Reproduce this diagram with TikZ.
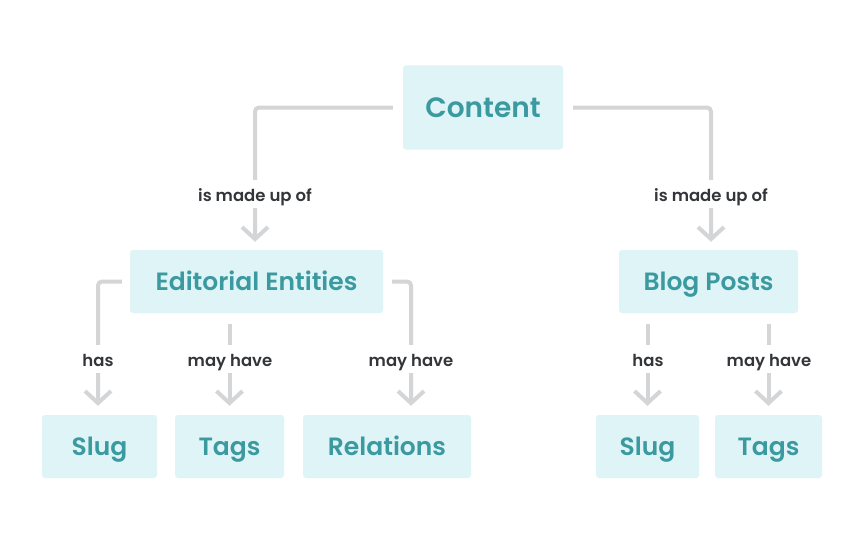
\documentclass[tikz,border=0pt]{standalone}
\usepackage{fontspec}
\setmainfont{Poppins}
\newfontfamily\boxfont{Poppins SemiBold}
\newfontfamily\labfont{Poppins SemiBold}
\usetikzlibrary{arrows.meta}
\definecolor{boxfill}{HTML}{DFF4F6}
\definecolor{boxtext}{HTML}{3A9AA0}
\definecolor{linecol}{HTML}{D3D5D7}
\definecolor{labtext}{HTML}{333538}
\tikzset{
  entity/.style={fill=boxfill, rounded corners=3pt, inner sep=0pt, text=boxtext,
    font=\boxfont\fontsize{25}{30}\selectfont, text height=17.5pt, text depth=0pt,
    minimum height=63pt},
  conn/.style={draw=linecol, line width=4pt, rounded corners=4pt,
    -{Straight Barb[length=12pt, width=26pt]}},
  rel/.style={fill=white, inner xsep=3pt, inner ysep=0pt, minimum height=28pt,
    text height=14pt, text depth=0pt,
    text=labtext, font=\labfont\fontsize{16.5}{20}\selectfont}
}
\begin{document}
\begin{tikzpicture}[x=1pt, y=-1pt]
\useasboundingbox[fill=white] (0,0) rectangle (864,543);
% nodes
\node[entity, minimum width=160pt, minimum height=84pt, font=\boxfont\fontsize{28}{33}\selectfont, text height=19.6pt] (content) at (483,107.5) {Content};
\node[entity, minimum width=253pt] (ee) at (256.5,281.5) {Editorial Entities};
\node[entity, minimum width=179pt] (bp) at (708.5,281.5) {Blog Posts};
\node[entity, minimum width=115pt] (slug1) at (99.5,446.5) {Slug};
\node[entity, minimum width=109pt] (tags1) at (229.5,446.5) {Tags};
\node[entity, minimum width=168pt] (rel1) at (387,446.5) {Relations};
\node[entity, minimum width=103pt] (slug2) at (647.5,446.5) {Slug};
\node[entity, minimum width=107pt] (tags2) at (768.5,446.5) {Tags};
% connectors
\draw[conn, shorten <=10pt, shorten >=8pt] (content.west) -| ([xshift=-1.5pt]ee.north);
\draw[conn, shorten <=10pt, shorten >=8pt] (content.east) -| ([xshift=2.5pt]bp.north);
\draw[conn, shorten <=8pt, shorten >=9pt] (ee.west) -| ([xshift=-1.5pt]slug1.north);
\draw[conn, shorten <=11pt, shorten >=9pt] (tags1.north |- ee.south) -- (tags1.north);
\draw[conn, shorten <=9pt, shorten >=9pt] (ee.east) -| ([xshift=24pt]rel1.north);
\draw[conn, shorten <=11pt, shorten >=9pt] (slug2.north |- bp.south) -- (slug2.north);
\draw[conn, shorten <=11pt, shorten >=9pt] (tags2.north |- bp.south) -- (tags2.north);
% labels
\node[rel] (l1) at (255,194) {is made up of};
\node[rel] (l2) at (711,194) {is made up of};
\node[rel] (l3) at (98,359) {has};
\node[rel] (l4) at (230,359) {may have};
\node[rel] (l5) at (411,359) {may have};
\node[rel] (l6) at (648,359) {has};
\node[rel] (l7) at (769,359) {may have};
\end{tikzpicture}
\end{document}
